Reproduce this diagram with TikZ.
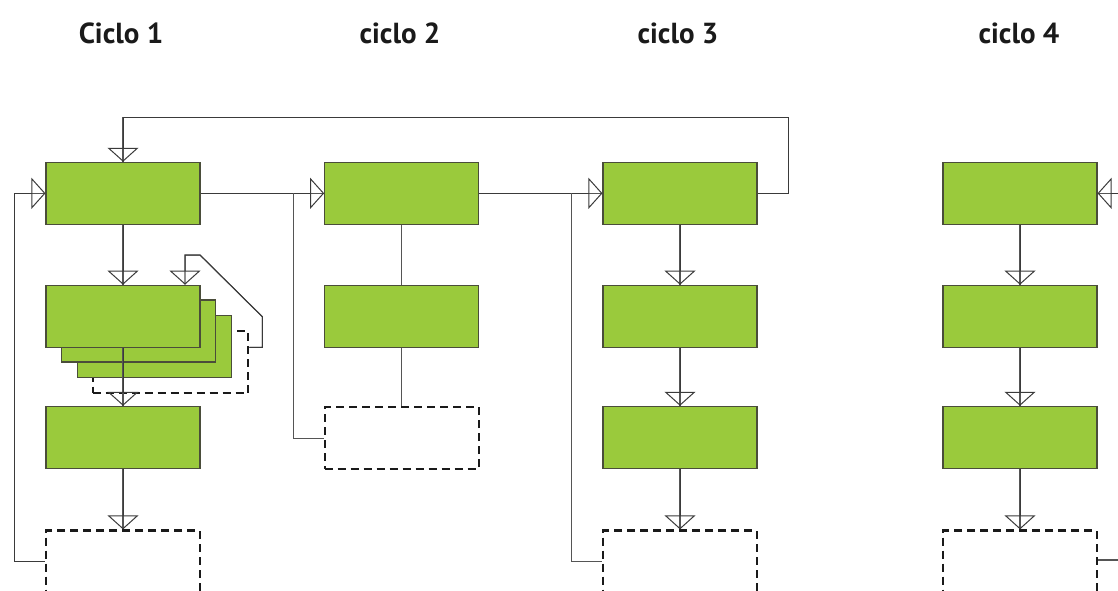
\documentclass[tikz,border=0pt]{standalone}
\usepackage{fontspec}
\setmainfont{PT Sans}
\usetikzlibrary{arrows.meta,calc}
\definecolor{boxgreen}{HTML}{9ACA3C}
\definecolor{boxedge}{HTML}{4A4D3A}
\definecolor{linegray}{HTML}{555555}
\definecolor{tipgray}{HTML}{3A3A3A}
\definecolor{dashblack}{HTML}{1A1A1A}
\tikzset{
  box/.style={rectangle, draw=boxedge, fill=boxgreen, line width=1.1pt, minimum width=154pt, minimum height=62pt, inner sep=0pt},
  dbox/.style={rectangle, draw=dashblack, line width=2.3pt, dash pattern=on 8pt off 5pt, minimum width=154pt, minimum height=62pt, inner sep=0pt},
  conn/.style={draw=linegray, line width=1.1pt},
  arr/.style={conn, postaction={draw=tipgray, line width=1pt, -{Triangle[open, length=14pt, width=31pt, line width=1pt]}}},
  hdr/.style={font=\fontsize{29}{34}\selectfont\bfseries, anchor=base, text=dashblack, inner sep=0pt}
}
\begin{document}
\begin{tikzpicture}[x=1pt,y=-1pt]
\useasboundingbox (0,0) rectangle (1118,590);
\clip (0,0) rectangle (1118,590);
% headers
\node[hdr] (h1) at (121,43.3) {Ciclo 1};
\node[hdr] (h2) at (400,43.3) {ciclo 2};
\node[hdr] (h3) at (678,43.3) {ciclo 3};
\node[hdr] (h4) at (1019,43.3) {ciclo 4};
% column 1
\node[box] (c1b1) at (123,193.3) {};
\node[dbox, minimum width=155.6pt] (c1s) at (170.5,361.9) {};
\node[box] (c1cb) at (154.2,346.7) {};
\node[box] (c1ca) at (138.7,331) {};
\node[box] (c1b2) at (123,316.2) {};
\node[box] (c1b3) at (123,437.3) {};
\node[dbox] (c1d) at (123,561.5) {};
% column 2
\node[box] (c2b1) at (401.7,193.3) {};
\node[box] (c2b2) at (401.7,316.3) {};
\node[dbox] (c2d) at (401.7,438.2) {};
% column 3
\node[box] (c3b1) at (680,193.3) {};
\node[box] (c3b2) at (680,316.2) {};
\node[box] (c3b3) at (680,437.3) {};
\node[dbox] (c3d) at (680,561.5) {};
% column 4
\node[box] (c4b1) at (1020,193.3) {};
\node[box] (c4b2) at (1020,316.2) {};
\node[box] (c4b3) at (1020,437.3) {};
\node[dbox] (c4d) at (1020,561.5) {};
% coordinates
\coordinate (t1) at (788.3,117.3);
\coordinate (f1) at (14.7,193.3);
\coordinate (f2) at (293.3,193.3);
\coordinate (f3) at (571.7,193.3);
\coordinate (e1) at (1118,193.3);
\coordinate (e2) at (1118,560);
\coordinate (l1) at (262.3,347.3);
\coordinate (l2) at (262.3,316.7);
\coordinate (l3) at (200,255);
\coordinate (l4) at (185,255);
% top loop
\draw[arr] (c3b1.east) -| (t1) -| (c1b1.north);
% horizontal chain
\draw[arr] (c1b1.east) -- (c2b1.west);
\draw[arr] (c2b1.east) -- (c3b1.west);
\draw[arr] (e1) -- (c4b1.east);
% feedback lines
\draw[arr] (c1d.west) -| (f1) -- (c1b1.west);
\draw[conn] (c2d.west) -| (f2);
\draw[conn] (c3d.west) -| (f3);
\draw[conn] (c4d.east |- e2) -- (e2);
% column 1 verticals
\draw[arr] (c1b1.south) -- (c1b2.north);
\draw[arr] (c1b2.south) -- (c1b3.north);
\draw[arr] (c1b3.south) -- (c1d.north);
\draw[arr] (c1s.east |- l1) -- (l1) -- (l2) -- (l3) -- (l4) -- (l4 |- c1b2.north);
% column 2
\draw[conn] (c2b1.south) -- (c2b2.north);
\draw[conn] (c2b2.south) -- (c2d.north);
% column 3
\draw[arr] (c3b1.south) -- (c3b2.north);
\draw[arr] (c3b2.south) -- (c3b3.north);
\draw[arr] (c3b3.south) -- (c3d.north);
% column 4
\draw[arr] (c4b1.south) -- (c4b2.north);
\draw[arr] (c4b2.south) -- (c4b3.north);
\draw[arr] (c4b3.south) -- (c4d.north);
\end{tikzpicture}
\end{document}
